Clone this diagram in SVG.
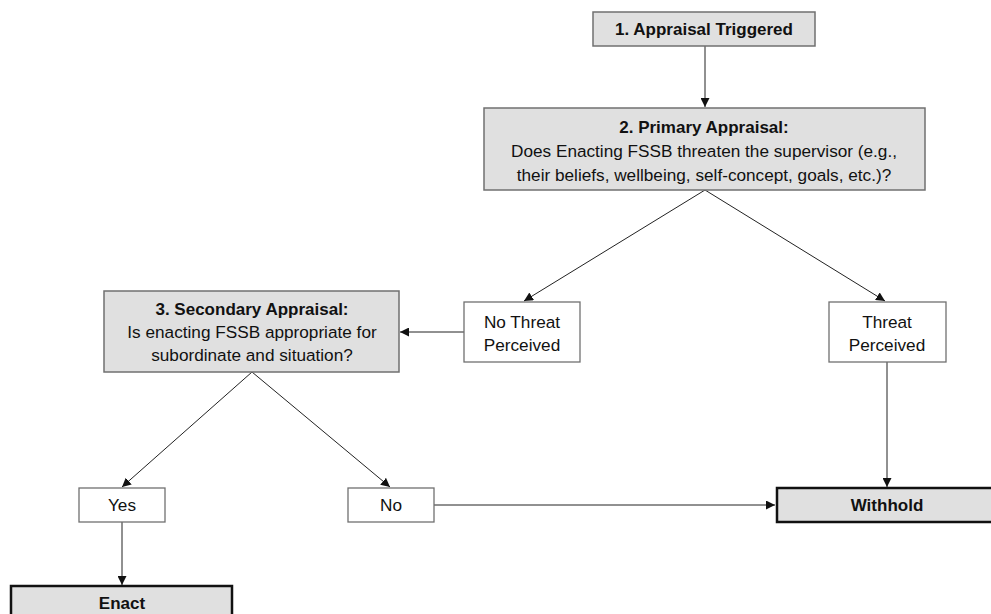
<svg xmlns="http://www.w3.org/2000/svg" width="991" height="614" viewBox="0 0 991 614">
<style>
text{font-family:"Liberation Sans",Arial,sans-serif;font-size:17.2px;fill:#111;text-anchor:middle}
.b{font-weight:bold;font-size:17px}
.g{fill:#e0e0e0;stroke:#707070;stroke-width:1.5}
.w{fill:#fff;stroke:#707070;stroke-width:1.3}
.k{fill:#e0e0e0;stroke:#111;stroke-width:2.5}
.c line{stroke:#222;stroke-width:1}
</style>
<defs>
<marker id="a" viewBox="0 0 10 10" refX="10" refY="5" markerWidth="9" markerHeight="9" markerUnits="userSpaceOnUse" orient="auto">
<path d="M0,0L10,5L0,10z" fill="#111"/>
</marker>
</defs>
<rect width="991" height="614" fill="#fff"/>
<g class="c">
<line x1="705" y1="46" x2="705" y2="107" marker-end="url(#a)"/>
<line x1="705" y1="190" x2="524" y2="301" marker-end="url(#a)"/>
<line x1="705" y1="190" x2="885" y2="301" marker-end="url(#a)"/>
<line x1="464" y1="332" x2="400" y2="332" marker-end="url(#a)"/>
<line x1="887" y1="362" x2="887" y2="487" marker-end="url(#a)"/>
<line x1="252" y1="372" x2="122" y2="487" marker-end="url(#a)"/>
<line x1="252" y1="372" x2="390" y2="487" marker-end="url(#a)"/>
<line x1="434" y1="505" x2="775" y2="505" marker-end="url(#a)"/>
<line x1="122" y1="522" x2="122" y2="585" marker-end="url(#a)"/>
</g>
<g id="n1"><rect class="g" x="593" y="12" width="222" height="34"/><text class="b" x="704" y="35">1. Appraisal Triggered</text></g>
<g id="n2"><rect class="g" x="484" y="108" width="441" height="82"/>
<text class="b" x="704" y="133">2. Primary Appraisal:</text>
<text x="704" y="157">Does Enacting FSSB threaten the supervisor (e.g.,</text>
<text x="704" y="181">their beliefs, wellbeing, self-concept, goals, etc.)?</text></g>
<g id="n3"><rect class="g" x="104" y="291" width="295" height="81"/>
<text class="b" x="252" y="315">3. Secondary Appraisal:</text>
<text x="252" y="338">Is enacting FSSB appropriate for</text>
<text x="252" y="361">subordinate and situation?</text></g>
<g id="nt"><rect class="w" x="464" y="302" width="116" height="60"/>
<text x="522" y="328">No Threat</text><text x="522" y="351">Perceived</text></g>
<g id="t"><rect class="w" x="829" y="302" width="117" height="60"/>
<text x="887" y="328">Threat</text><text x="887" y="351">Perceived</text></g>
<g id="yes"><rect class="w" x="79" y="488" width="86" height="34"/><text x="122" y="511">Yes</text></g>
<g id="no"><rect class="w" x="348" y="488" width="86" height="34"/><text x="391" y="511">No</text></g>
<g id="withhold"><rect class="k" x="777" y="488" width="220" height="34"/><text class="b" x="887" y="511">Withhold</text></g>
<g id="enact"><rect class="k" x="11" y="586" width="221" height="34"/><text class="b" x="122" y="609">Enact</text></g>
</svg>
